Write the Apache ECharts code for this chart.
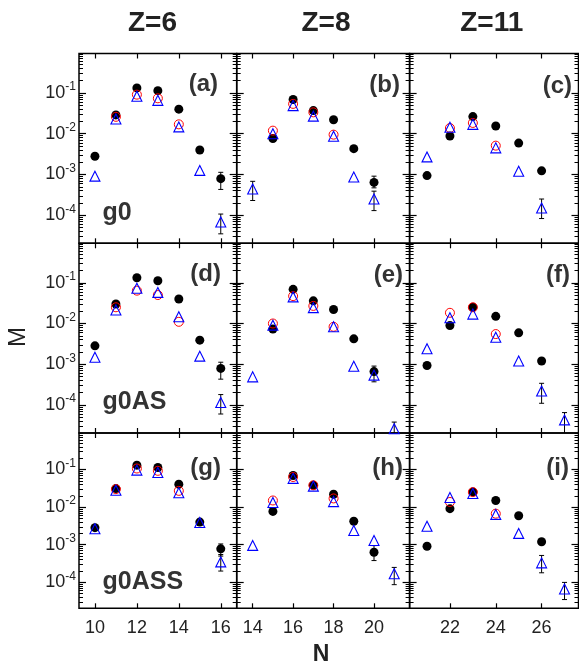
<!DOCTYPE html>
<html><head><meta charset="utf-8">
<script src="https://cdn.jsdelivr.net/npm/echarts@6/dist/echarts.min.js"></script>
<style>html,body{margin:0;padding:0;background:#fff}#c{width:579px;height:664px}</style>
</head><body><div id="c"></div>
<script>
// ---- labels / ticks ----
const zLabels = ['Z=6', 'Z=8', 'Z=11'];
const modelLabels = ['g0', 'g0AS', 'g0ASS'];
const panelLabels = ['(a)', '(b)', '(c)', '(d)', '(e)', '(f)', '(g)', '(h)', '(i)'];
const nTicks = [[10, 12, 14, 16], [14, 16, 18, 20], [22, 24, 26]];
const nRanges = [[9.24, 16.76], [13.21, 21.76], [20.24, 27.61]];
const mRange = [2.05e-5, 0.93];
const mMajor = [1e-4, 1e-3, 1e-2, 1e-1];
const mMinorFactors = [2, 3, 4, 5, 6, 7, 8, 9];
const mMinorDecades = [1e-5, 1e-4, 1e-3, 1e-2, 1e-1];

// ---- data: [N, M] ; error bars [N, low, high] ----
const expA = [[10, 2.8e-3], [11, 2.9e-2], [12, 0.133], [13, 0.114], [14, 0.040], [15, 4.0e-3], [16, 7.9e-4]];
const redA = [[11, 2.6e-2], [12, 0.091], [13, 0.074], [14, 1.7e-2]];
const blueA = [[10, 9.1e-4], [11, 2.3e-2], [12, 8.3e-2], [13, 6.6e-2], [14, 1.47e-2], [15, 1.26e-3], [16, 6.8e-5]];
const errA = [[16, 4.3e-4, 1.13e-3], [16, 3.5e-5, 1.07e-4]];

const expB = [[15, 7.6e-3], [16, 6.9e-2], [17, 3.7e-2], [18, 2.2e-2], [19, 4.3e-3], [20, 6.4e-4]];
const redB = [[15, 1.19e-2], [16, 5.4e-2], [17, 3.35e-2], [18, 9.5e-3]];
const blueB = [[14, 4.4e-4], [15, 1.0e-2], [16, 4.9e-2], [17, 2.7e-2], [18, 8.7e-3], [19, 8.7e-4], [20, 2.5e-4]];
const errB = [[14, 2.3e-4, 6.8e-4], [20, 4.7e-4, 9.1e-4], [20, 1.3e-4, 3.9e-4]];

const expC = [[21, 9.4e-4], [22, 8.8e-3], [23, 2.63e-2], [24, 1.55e-2], [25, 5.9e-3], [26, 1.23e-3]];
const redC = [[22, 1.38e-2], [23, 1.84e-2], [24, 5.1e-3]];
const blueC = [[21, 2.7e-3], [22, 1.44e-2], [23, 1.7e-2], [24, 4.5e-3], [25, 1.2e-3], [26, 1.5e-4]];
const errC = [[26, 8.3e-5, 2.5e-4]];

const expD = [[10, 2.83e-3], [11, 3.0e-2], [12, 0.133], [13, 0.112], [14, 0.040], [15, 3.9e-3], [16, 7.9e-4]];
const redD = [[11, 2.5e-2], [12, 6.4e-2], [13, 5.0e-2], [14, 1.1e-2]];
const blueD = [[10, 1.48e-3], [11, 2.14e-2], [12, 7.3e-2], [13, 5.8e-2], [14, 1.46e-2], [15, 1.58e-3], [16, 1.15e-4]];
const errD = [[16, 4.3e-4, 1.12e-3], [16, 6e-5, 1.8e-4]];

const expE = [[15, 7.3e-3], [16, 6.9e-2], [17, 3.6e-2], [18, 2.2e-2], [19, 4.2e-3], [20, 6.6e-4]];
const redE = [[15, 1.0e-2], [16, 4.7e-2], [17, 2.7e-2], [18, 8.3e-3]];
const blueE = [[14, 4.9e-4], [15, 9.1e-3], [16, 4.5e-2], [17, 2.45e-2], [18, 8.3e-3], [19, 8.9e-4], [20, 5.4e-4], [21, 2.6e-5]];
const errE = [[20, 3.7e-4, 9.0e-4], [21, 1.0e-5, 3.8e-5]];

const expF = [[21, 9.3e-4], [22, 8.9e-3], [23, 2.5e-2], [24, 1.5e-2], [25, 5.9e-3], [26, 1.2e-3]];
const redF = [[22, 1.83e-2], [23, 2.5e-2], [24, 5.5e-3]];
const blueF = [[21, 2.4e-3], [22, 1.38e-2], [23, 1.7e-2], [24, 4.6e-3], [25, 1.2e-3], [26, 2.2e-4], [27, 4.3e-5]];
const errF = [[26, 1.1e-4, 3.4e-4], [27, 2.0e-5, 6.5e-5]];

const expG = [[10, 2.84e-3], [11, 3.1e-2], [12, 0.13], [13, 0.113], [14, 4.06e-2], [15, 4.0e-3], [16, 7.8e-4]];
const redG = [[11, 3.0e-2], [12, 0.106], [13, 0.092], [14, 2.7e-2]];
const blueG = [[10, 2.67e-3], [11, 2.8e-2], [12, 9.6e-2], [13, 8.3e-2], [14, 2.4e-2], [15, 3.9e-3], [16, 3.5e-4]];
const errG = [[16, 5.0e-4, 1.05e-3], [16, 2.0e-4, 5.5e-4]];

const expH = [[15, 7.7e-3], [16, 6.9e-2], [17, 3.8e-2], [18, 2.2e-2], [19, 4.2e-3], [20, 6.3e-4]];
const redH = [[15, 1.5e-2], [16, 6.3e-2], [17, 3.8e-2], [18, 1.7e-2]];
const blueH = [[14, 9.6e-4], [15, 1.32e-2], [16, 5.8e-2], [17, 3.6e-2], [18, 1.4e-2], [19, 2.4e-3], [20, 1.3e-3], [21, 1.7e-4]];
const errH = [[20, 3.8e-4, 9.5e-4], [21, 8.7e-5, 2.5e-4]];

const expI = [[21, 9.1e-4], [22, 9.1e-3], [23, 2.53e-2], [24, 1.5e-2], [25, 5.9e-3], [26, 1.2e-3]];
const redI = [[22, 1.37e-2], [23, 2.5e-2], [24, 6.7e-3]];
const blueI = [[21, 3.1e-3], [22, 1.8e-2], [23, 2.3e-2], [24, 6.4e-3], [25, 2.0e-3], [26, 3.3e-4], [27, 6.7e-5]];
const errI = [[26, 1.8e-4, 5.2e-4], [27, 3.5e-5, 1.0e-4]];

const panels = [
  [expA, redA, blueA, errA], [expB, redB, blueB, errB], [expC, redC, blueC, errC],
  [expD, redD, blueD, errD], [expE, redE, blueE, errE], [expF, redF, blueF, errF],
  [expG, redG, blueG, errG], [expH, redH, blueH, errH], [expI, redI, blueI, errI]
];

// ---- layout ----
const FONT = 'Liberation Sans, Arial, Helvetica, sans-serif';
const colX = [79, 236.7, 409.6, 578.5];
const rowY = [53.5, 243.3, 433, 608.3];
const labelRight = [[218, 400, 572], [221, 403, 570], [221, 403, 569]];
const labelMidY = [[84, 85, 86], [274, 275, 275], [468, 468, 468]];
const modelBase = [226, 415, 595];
const zCenterX = [152.5, 326, 491.7];

const mMinor = [];
mMinorDecades.forEach(d => mMinorFactors.forEach(f => {
  const v = f * d;
  if (v >= mRange[0] && v <= mRange[1]) mMinor.push(v);
}));

function renderErr(params, api) {
  const x = api.value(0), lo = api.value(1), hi = api.value(2);
  const p1 = api.coord([x, lo]), p2 = api.coord([x, hi]);
  const cap = 2.5;
  const st = { stroke: '#000', lineWidth: 1 };
  return {
    type: 'group', children: [
      { type: 'line', shape: { x1: p1[0], y1: p1[1], x2: p2[0], y2: p2[1] }, style: st },
      { type: 'line', shape: { x1: p1[0] - cap, y1: p1[1], x2: p1[0] + cap, y2: p1[1] }, style: st },
      { type: 'line', shape: { x1: p2[0] - cap, y1: p2[1], x2: p2[0] + cap, y2: p2[1] }, style: st }
    ]
  };
}

const option = { animation: false, grid: [], xAxis: [], yAxis: [], series: [], graphic: [] };

for (let r = 0; r < 3; r++) {
  for (let c = 0; c < 3; c++) {
    const i = r * 3 + c;
    option.grid.push({
      left: colX[c], top: rowY[r], width: colX[c + 1] - colX[c], height: rowY[r + 1] - rowY[r],
      show: true, borderColor: '#000', borderWidth: 1.5, backgroundColor: 'rgba(0,0,0,0)',
      containLabel: false, outerBoundsMode: 'none'
    });
    ['bottom', 'top'].forEach(pos => {
      option.xAxis.push({
        gridIndex: i, type: 'value', position: pos, min: nRanges[c][0], max: nRanges[c][1],
        axisLine: { show: false, onZero: false }, splitLine: { show: false },
        axisTick: { show: true, inside: true, length: 5, customValues: nTicks[c], lineStyle: { color: '#000', width: 1.2 } },
        axisLabel: {
          show: pos === 'bottom' && r === 2, customValues: nTicks[c], fontSize: 18, color: '#222',
          fontFamily: FONT, margin: 11
        }
      });
    });
    ['left', 'right'].forEach(pos => {
      option.yAxis.push({
        gridIndex: i, type: 'log', logBase: 10, position: pos, min: mRange[0], max: mRange[1],
        axisLine: { show: false, onZero: false }, splitLine: { show: false },
        axisTick: { show: true, inside: true, length: 7, customValues: mMajor, lineStyle: { color: '#000', width: 1.2 } },
        axisLabel: {
          show: pos === 'left' && c === 0, customValues: mMajor, margin: 3,
          formatter: v => '{b|10}{s|' + Math.round(Math.log10(v)) + '}',
          rich: {
            b: { fontSize: 18, color: '#222', fontFamily: FONT, lineHeight: 24 },
            s: { fontSize: 12, color: '#222', fontFamily: FONT, lineHeight: 12, verticalAlign: 'top' }
          }
        }
      });
      option.yAxis.push({
        gridIndex: i, type: 'log', logBase: 10, position: pos, min: mRange[0], max: mRange[1],
        axisLine: { show: false, onZero: false }, splitLine: { show: false },
        axisTick: { show: true, inside: true, length: 4, customValues: mMinor, lineStyle: { color: '#000', width: 1 } },
        axisLabel: { show: false }
      });
    });
    const [ex, rd, bl, er] = panels[i];
    const xi = 2 * i, yi = 4 * i;
    option.series.push({
      type: 'custom', xAxisIndex: xi, yAxisIndex: yi, data: er, renderItem: renderErr,
      encode: { x: 0, y: [1, 2] }, clip: true, silent: true, z: 1
    });
    option.series.push({
      type: 'scatter', xAxisIndex: xi, yAxisIndex: yi, data: ex, symbol: 'circle', symbolSize: 9,
      itemStyle: { color: '#000', opacity: 1 }, silent: true, z: 2
    });
    option.series.push({
      type: 'scatter', xAxisIndex: xi, yAxisIndex: yi, data: rd, symbol: 'circle', symbolSize: 9,
      itemStyle: { color: 'rgba(0,0,0,0)', borderColor: '#ff0000', borderWidth: 1, opacity: 1 }, silent: true, z: 3
    });
    option.series.push({
      type: 'scatter', xAxisIndex: xi, yAxisIndex: yi, data: bl, symbol: 'triangle', symbolSize: 10,
      itemStyle: { color: 'rgba(0,0,0,0)', borderColor: '#0000ff', borderWidth: 1.1, opacity: 1 }, silent: true, z: 4
    });
    option.graphic.push({
      type: 'text', x: labelRight[r][c], y: labelMidY[r][c], silent: true, z: 10,
      style: { text: panelLabels[i], font: 'bold 24px ' + FONT, fill: '#333', textAlign: 'right', textVerticalAlign: 'middle' }
    });
  }
  option.graphic.push({
    type: 'text', x: 102.5, y: modelBase[r], silent: true, z: 10,
    style: { text: modelLabels[r], font: 'bold 25px ' + FONT, fill: '#333', textAlign: 'left', textBaseline: 'alphabetic', textVerticalAlign: 'bottom' }
  });
}
zLabels.forEach((t, c) => option.graphic.push({
  type: 'text', x: zCenterX[c], y: 23, silent: true,
  style: { text: t, font: 'bold 28px ' + FONT, fill: '#222', textAlign: 'center', textVerticalAlign: 'middle' }
}));
option.graphic.push({
  type: 'text', x: 18.5, y: 337, rotation: Math.PI / 2, silent: true,
  style: { text: 'M', font: '24px ' + FONT, fill: '#222', textAlign: 'center', textVerticalAlign: 'middle' }
});
option.graphic.push({
  type: 'text', x: 321, y: 655, silent: true,
  style: { text: 'N', font: 'bold 23px ' + FONT, fill: '#222', textAlign: 'center', textVerticalAlign: 'middle' }
});

const chart = echarts.init(document.getElementById('c'), null, { renderer: 'canvas' });
chart.setOption(option);
</script>
</body></html>
